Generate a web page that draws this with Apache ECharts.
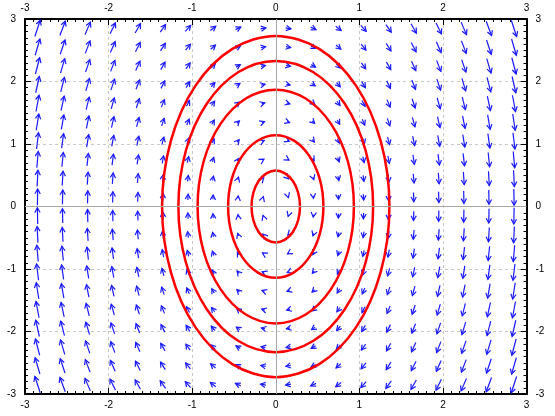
<!DOCTYPE html>
<html>
<head>
<meta charset="utf-8">
<script src="https://cdn.jsdelivr.net/npm/echarts@6/dist/echarts.min.js"></script>
<style>html,body{margin:0;padding:0;background:#fff;}#c{width:555px;height:416px;}</style>
</head>
<body>
<div id="c"></div>
<script>
// Tick labels
const tickValues = [-3, -2, -1, 0, 1, 2, 3];
// Arrow grid positions (centres of the arrows)
const xs = [-2.85,-2.55,-2.25,-1.95,-1.65,-1.35,-1.05,-0.75,-0.45,-0.15,0.15,0.45,0.75,1.05,1.35,1.65,1.95,2.25,2.55,2.85];
const ys = [-2.85,-2.55,-2.25,-1.95,-1.65,-1.35,-1.05,-0.75,-0.45,-0.15,0.15,0.45,0.75,1.05,1.35,1.65,1.95,2.25,2.55,2.85];
// Vertical arrow component read per column (depends on x)
const dyByColumn = [0.26,0.23,0.20,0.175,0.15,0.12,0.095,0.068,0.04,0.014,-0.014,-0.04,-0.068,-0.095,-0.12,-0.15,-0.175,-0.20,-0.23,-0.26];
// Horizontal arrow component read per row (depends on y)
const dxByRow = [-0.064,-0.057,-0.051,-0.044,-0.037,-0.030,-0.024,-0.017,-0.010,-0.0034,0.0034,0.010,0.017,0.024,0.030,0.037,0.044,0.051,0.057,0.064];

// Contour lines (closed)
const contour1 = [[0.29,0],[0.268,0.22],[0.205,0.407],[0.111,0.531],[0,0.575],[-0.111,0.531],[-0.205,0.407],[-0.268,0.22],[-0.29,0],[-0.268,-0.22],[-0.205,-0.407],[-0.111,-0.531],[0,-0.575],[0.111,-0.531],[0.205,-0.407],[0.268,-0.22]];
const contour2 = [[0.57,0],[0.527,0.437],[0.403,0.806],[0.218,1.053],[0,1.14],[-0.218,1.053],[-0.403,0.806],[-0.527,0.437],[-0.57,0],[-0.527,-0.437],[-0.403,-0.806],[-0.218,-1.053],[0,-1.14],[0.218,-1.053],[0.403,-0.806],[0.527,-0.437]];
const contour3 = [[0.935,0],[0.864,0.716],[0.661,1.322],[0.358,1.728],[0,1.87],[-0.358,1.728],[-0.661,1.322],[-0.864,0.716],[-0.935,0],[-0.864,-0.716],[-0.661,-1.322],[-0.358,-1.728],[0,-1.87],[0.358,-1.728],[0.661,-1.322],[0.864,-0.716]];
const contour4 = [[1.165,0],[1.076,0.892],[0.824,1.647],[0.446,2.153],[0,2.33],[-0.446,2.153],[-0.824,1.647],[-1.076,0.892],[-1.165,0],[-1.076,-0.892],[-0.824,-1.647],[-0.446,-2.153],[0,-2.33],[0.446,-2.153],[0.824,-1.647],[1.076,-0.892]];
const contour5 = [[1.36,0],[1.256,1.045],[0.962,1.93],[0.52,2.522],[0,2.73],[-0.52,2.522],[-0.962,1.93],[-1.256,1.045],[-1.36,0],[-1.256,-1.045],[-0.962,-1.93],[-0.52,-2.522],[0,-2.73],[0.52,-2.522],[0.962,-1.93],[1.256,-1.045]];
const contours = [contour1, contour2, contour3, contour4, contour5];

const arrowData = [];
for (let j = 0; j < ys.length; j++) {
  for (let i = 0; i < xs.length; i++) {
    arrowData.push([xs[i], ys[j], dxByRow[j], dyByColumn[i]]);
  }
}

const FONT = 'Liberation Sans';
function makeAxis(pos, isX) {
  return {
    type: 'value', position: pos, min: -3, max: 3, interval: 1,
    axisLine: { onZero: false, lineStyle: { color: '#000', width: 2 } },
    axisTick: { inside: true, length: 6, lineStyle: { color: '#000', width: 1 } },
    minorTick: { show: true, splitNumber: 10, length: 3, lineStyle: { color: '#000', width: 1 } },
    axisLabel: { show: true, margin: isX ? 6 : 9, color: '#000', fontSize: 10, fontFamily: FONT, showMinLabel: true, showMaxLabel: true,
      formatter: v => tickValues.indexOf(v) >= 0 ? String(v) : '' },
    splitLine: { show: pos === 'bottom' || pos === 'left', lineStyle: { type: [3, 3], color: '#c8c8c8', width: 1 } },
    minorSplitLine: { show: false }
  };
}

const chart = echarts.init(document.getElementById('c'), null, { renderer: 'canvas' });
chart.setOption({
  backgroundColor: '#fff',
  animation: false,
  grid: { left: 25, top: 19, right: 28.5, bottom: 22, containLabel: false },
  xAxis: [makeAxis('bottom', true), makeAxis('top', true)],
  yAxis: [makeAxis('left', false), makeAxis('right', false)],
  series: [
    {
      type: 'custom',
      xAxisIndex: 0, yAxisIndex: 0,
      silent: true,
      z: 3,
      data: arrowData,
      encode: { x: 0, y: 1 },
      markLine: {
        silent: true, symbol: 'none', label: { show: false },
        lineStyle: { color: '#a8a8a8', type: 'solid', width: 1 },
        data: [{ xAxis: 0 }, { yAxis: 0 }]
      },
      renderItem: function (params, api) {
        const x = api.value(0), y = api.value(1), dx = api.value(2), dy = api.value(3);
        const a = api.coord([x - dx / 2, y - dy / 2]);
        const b = api.coord([x + dx / 2, y + dy / 2]);
        const ang = Math.atan2(b[1] - a[1], b[0] - a[0]);
        const L = 5.5, h = 0.5;
        const p1 = [b[0] - L * Math.cos(ang - h), b[1] - L * Math.sin(ang - h)];
        const p2 = [b[0] - L * Math.cos(ang + h), b[1] - L * Math.sin(ang + h)];
        return {
          type: 'group',
          children: [
            { type: 'line', shape: { x1: a[0], y1: a[1], x2: b[0], y2: b[1] }, style: { stroke: '#1a1aff', lineWidth: 1.2 } },
            { type: 'polyline', shape: { points: [p1, b, p2] }, style: { stroke: '#1a1aff', fill: null, lineWidth: 1.2 } }
          ]
        };
      }
    },
    {
      type: 'custom',
      xAxisIndex: 0, yAxisIndex: 0,
      silent: true,
      z: 4,
      data: contours.map((c, i) => [i]),
      renderItem: function (params, api) {
        const pts = contours[api.value(0)].map(p => api.coord(p));
        return {
          type: 'polygon',
          shape: { points: pts, smooth: 0.33 },
          style: { stroke: '#ff0000', fill: null, lineWidth: 2.5 }
        };
      }
    }
  ]
});
</script>
</body>
</html>
